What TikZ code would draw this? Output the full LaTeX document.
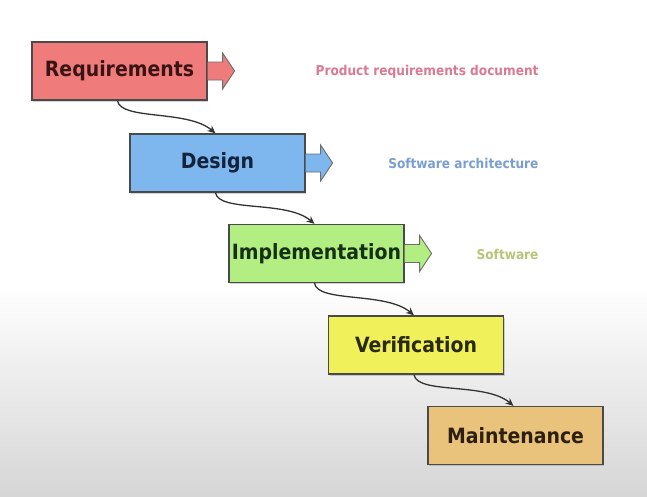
\documentclass[tikz,border=0pt]{standalone}
\usepackage{fontspec}
\setmainfont{DejaVu Sans Condensed}
\usetikzlibrary{shadows,arrows.meta}
\definecolor{reqfill}{HTML}{F07B7B}
\definecolor{desfill}{HTML}{7EB6EE}
\definecolor{impfill}{HTML}{B2EE82}
\definecolor{verfill}{HTML}{F0F05A}
\definecolor{maifill}{HTML}{E9C27C}
\definecolor{edge}{HTML}{4A4A4A}
\definecolor{reqlab}{HTML}{DA7A92}
\definecolor{deslab}{HTML}{7A9ED0}
\definecolor{implab}{HTML}{B8C478}
\definecolor{bggray}{HTML}{D6D6D6}
\definecolor{reqtxt}{HTML}{3A1414}
\definecolor{destxt}{HTML}{14223A}
\definecolor{imptxt}{HTML}{163016}
\definecolor{vertxt}{HTML}{2A2A0E}
\definecolor{maitxt}{HTML}{2E2010}
\tikzset{
  phase/.style={draw=edge, line width=1.2pt, minimum width=175pt, minimum height=58pt,
    inner sep=0pt, font=\bfseries\fontsize{21}{25}\selectfont,
    drop shadow={shadow xshift=1.2pt, shadow yshift=-1.5pt, opacity=0.35}},
  outarrow/.style={draw=edge!80, line width=0.9pt, line join=miter},
  flow/.style={draw=black!80, line width=1.3pt, -{Stealth[length=8pt,width=7pt]}},
  product/.style={font=\bfseries\fontsize{13.5}{16}\selectfont, anchor=east}
}
\begin{document}
\begin{tikzpicture}[x=1pt,y=-1pt]
\useasboundingbox (0,0) rectangle (647,496);
\fill[white] (0,0) rectangle (647,285);
\shade[top color=white, bottom color=bggray] (0,284) rectangle (647,496);

\node[phase, fill=reqfill, text=reqtxt] (req) at (119.5,71) {Requirements};
\node[phase, fill=desfill, text=destxt] (des) at (217.5,163) {Design};
\node[phase, fill=impfill, text=imptxt] (imp) at (316.5,253.5) {Implementation};
\node[phase, fill=verfill, text=vertxt] (ver) at (416,345) {Verification};
\node[phase, fill=maifill, text=maitxt] (mai) at (515.5,435.5) {Maintenance};

% output arrows
\foreach \n/\c in {req/reqfill, des/desfill, imp/impfill}{
  \filldraw[outarrow, fill=\c] ([yshift=9pt]\n.east) -- ++(15,0) -- ++(0,-9) -- ++(12,18) -- ++(-12,18) -- ++(0,-9) -- ++(-15,0);
}

\node[product, text=reqlab] (lreq) at (542,72) {Product requirements document};
\node[product, text=deslab] (ldes) at (542,163) {Software architecture};
\node[product, text=implab] (limp) at (542,254) {Software};

% flow connectors
\draw[flow] ([xshift=-2pt]req.south) .. controls +(3,20) and +(-28,-24) .. ([xshift=-2pt]des.north);
\draw[flow] ([xshift=-2pt]des.south) .. controls +(3,20) and +(-28,-24) .. ([xshift=-2pt]imp.north);
\draw[flow] ([xshift=-2pt]imp.south) .. controls +(3,20) and +(-28,-24) .. ([xshift=-2pt]ver.north);
\draw[flow] ([xshift=-2pt]ver.south) .. controls +(3,20) and +(-28,-24) .. ([xshift=-2pt]mai.north);
\end{tikzpicture}
\end{document}
